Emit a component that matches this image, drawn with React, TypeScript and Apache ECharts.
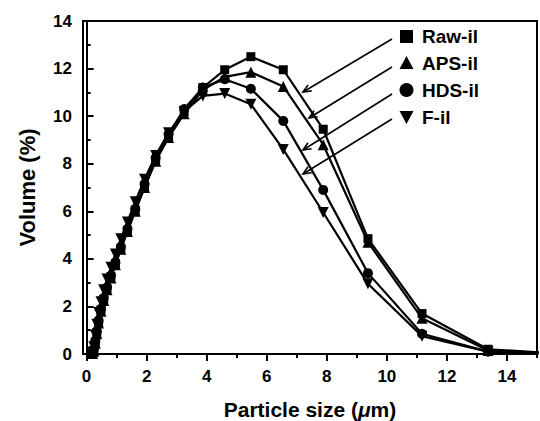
import React, { useEffect, useRef } from "react";
import * as echarts from "echarts";

// Particle size bins (µm)
const sizes = [0.2, 0.24, 0.29, 0.34, 0.4, 0.48, 0.57, 0.68, 0.81, 0.96, 1.14, 1.36, 1.62, 1.93, 2.3, 2.73, 3.25, 3.87, 4.6, 5.47, 6.55, 7.88, 9.37, 11.17, 13.37, 15.95];

const rawIl = [0.02, 0.15, 0.5, 0.9, 1.35, 1.85, 2.3, 2.75, 3.25, 3.8, 4.45, 5.2, 6.05, 7.05, 8.15, 9.15, 10.2, 11.2, 11.95, 12.5, 11.95, 9.45, 4.85, 1.7, 0.2, 0];
const apsIl = [0.02, 0.12, 0.45, 0.85, 1.3, 1.8, 2.25, 2.7, 3.2, 3.75, 4.4, 5.15, 6.0, 7.0, 8.1, 9.1, 10.1, 11.1, 11.65, 11.85, 11.25, 8.8, 4.7, 1.5, 0.15, 0];
const hdsIl = [0.03, 0.18, 0.55, 0.95, 1.4, 1.9, 2.35, 2.8, 3.3, 3.85, 4.5, 5.25, 6.1, 7.15, 8.25, 9.25, 10.3, 11.2, 11.55, 11.15, 9.8, 6.9, 3.4, 0.85, 0.1, 0];
const fIl = [0.08, 0.3, 0.8, 1.25, 1.75, 2.2, 2.7, 3.15, 3.65, 4.2, 4.85, 5.55, 6.4, 7.35, 8.35, 9.3, 10.2, 10.85, 10.95, 10.5, 8.6, 5.95, 2.95, 0.75, 0.1, 0];

const seriesNames = ["Raw-il", "APS-il", "HDS-il", "F-il"];
const xMajorTicks = [0, 2, 4, 6, 8, 10, 12, 14];
const xMinorTicks = [1, 3, 5, 7, 9, 11, 13, 15];

const FONT = "'Liberation Sans', Arial, sans-serif";

function arrowGraphic(x1: number, y1: number, x2: number, y2: number) {
  const dx = x2 - x1;
  const dy = y2 - y1;
  const len = Math.sqrt(dx * dx + dy * dy);
  const ux = dx / len;
  const uy = dy / len;
  const hl = 8;
  const hw = 3.5;
  const bx = x2 - ux * hl;
  const by = y2 - uy * hl;
  const px = -uy;
  const py = ux;
  return [
    { type: "line", shape: { x1, y1, x2, y2 }, style: { stroke: "#000", lineWidth: 1.6 } },
    {
      type: "polyline",
      shape: { points: [[bx + px * hw, by + py * hw], [x2, y2], [bx - px * hw, by - py * hw]] },
      style: { stroke: "#000", lineWidth: 1.6, fill: null },
    },
  ];
}

export default function App() {
  const ref = useRef<HTMLDivElement>(null);

  useEffect(() => {
    if (!ref.current) return;
    const chart = echarts.init(ref.current, null, { renderer: "svg" });

    const allData = [rawIl, apsIl, hdsIl, fIl];
    const symbols = ["rect", "triangle", "circle", "triangle"];
    const symbolSizes = [9, 11, 10, 11];
    const rotates = [0, 0, 0, 180];

    const series = allData.map((vals, k) => ({
      name: seriesNames[k],
      type: "line",
      data: sizes.map((x, i) => [x, vals[i]]),
      symbol: symbols[k],
      symbolSize: symbolSizes[k],
      symbolRotate: rotates[k],
      showAllSymbol: true,
      clip: true,
      lineStyle: { color: "#000", width: 2.2 },
      itemStyle: { color: "#000" },
      xAxisIndex: 0,
      yAxisIndex: 0,
      z: 3,
    }));

    const legendY = [36.5, 63, 90, 117];
    const legendMarkers: any[] = [
      { type: "rect", shape: { x: 400, y: legendY[0] - 6.5, width: 13, height: 13 }, style: { fill: "#000" } },
      { type: "polygon", shape: { points: [[406.5, legendY[1] - 7], [413.5, legendY[1] + 6], [399.5, legendY[1] + 6]] }, style: { fill: "#000" } },
      { type: "circle", shape: { cx: 406.5, cy: legendY[2], r: 7 }, style: { fill: "#000" } },
      { type: "polygon", shape: { points: [[399.5, legendY[3] - 6], [413.5, legendY[3] - 6], [406.5, legendY[3] + 7]] }, style: { fill: "#000" } },
    ];
    const legendTexts = seriesNames.map((n, k) => ({
      type: "text",
      x: 422,
      y: legendY[k],
      style: {
        text: n,
        fill: "#000",
        font: `bold 19px ${FONT}`,
        textVerticalAlign: "middle",
        verticalAlign: "middle",
      },
    }));

    const arrows = [
      [392, 39, 303, 92],
      [392, 67, 309, 118],
      [392, 94, 303, 150],
      [392, 119, 303, 174],
    ].flatMap((a) => arrowGraphic(a[0], a[1], a[2], a[3]));

    chart.setOption({
      animation: false,
      backgroundColor: "#fff",
      grid: {
        left: 83,
        right: 3,
        top: 21,
        bottom: 67,
        show: true,
        borderColor: "#000",
        borderWidth: 2,
        outerBoundsMode: "none",
        containLabel: false,
      },
      xAxis: [
        {
          type: "value",
          min: -0.12,
          max: 15,
          position: "bottom",
          axisLine: { show: true, onZero: false, lineStyle: { color: "#000", width: 2 } },
          axisTick: { show: true, inside: false, length: 7, customValues: xMajorTicks, lineStyle: { color: "#000", width: 2 } },
          axisLabel: {
            show: true,
            customValues: xMajorTicks,
            margin: 14,
            color: "#000",
            fontFamily: FONT,
            fontWeight: "bold",
            fontSize: 17,
          },
          splitLine: { show: false },
          name: "Particle size ({it|μ}m)",
          nameLocation: "middle",
          nameGap: 45,
          nameTextStyle: {
            color: "#000",
            fontFamily: FONT,
            fontWeight: "bold",
            fontSize: 21,
            rich: {
              it: { fontStyle: "italic", fontFamily: FONT, fontWeight: "bold", fontSize: 21, color: "#000" },
            },
          },
        },
        {
          type: "value",
          min: -0.12,
          max: 15,
          position: "bottom",
          axisLine: { show: false, onZero: false },
          axisTick: { show: true, inside: false, length: 4, customValues: xMinorTicks, lineStyle: { color: "#000", width: 2 } },
          axisLabel: { show: false },
          splitLine: { show: false },
        },
      ],
      yAxis: {
        type: "value",
        min: 0,
        max: 14,
        interval: 2,
        axisLine: { show: true, lineStyle: { color: "#000", width: 2 } },
        axisTick: { show: true, inside: true, length: 7, lineStyle: { color: "#000", width: 2 } },
        minorTick: { show: true, splitNumber: 2, length: 4, lineStyle: { color: "#000", width: 2 } },
        axisLabel: {
          margin: 11,
          color: "#000",
          fontFamily: FONT,
          fontWeight: "bold",
          fontSize: 17,
        },
        splitLine: { show: false },
        name: "Volume (%)",
        nameLocation: "middle",
        nameGap: 45,
        nameTextStyle: {
          color: "#000",
          fontFamily: FONT,
          fontWeight: "bold",
          fontSize: 22,
        },
      },
      series,
      graphic: [...arrows, ...legendMarkers, ...legendTexts],
    });

    return () => chart.dispose();
  }, []);

  return (
    <div
      ref={ref}
      style={{ position: "fixed", left: 0, top: 0, width: 540, height: 421, background: "#fff" }}
    />
  );
}
